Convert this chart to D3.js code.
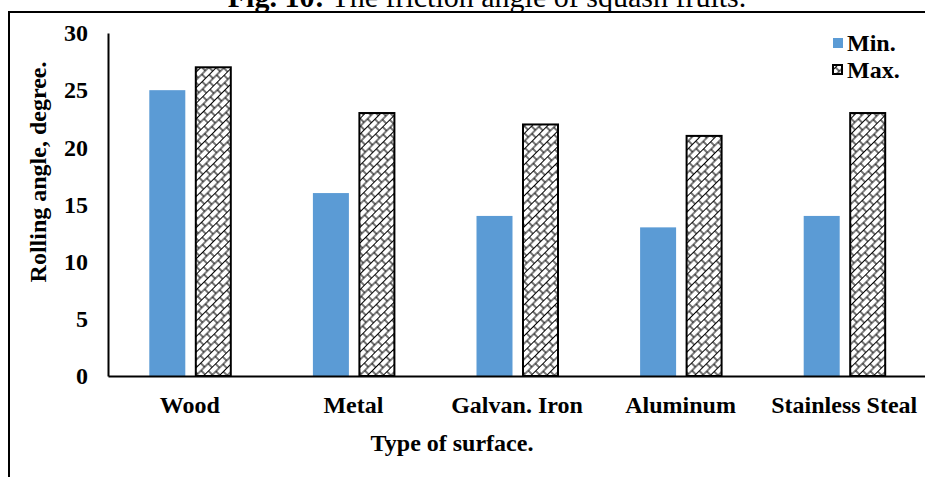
<!DOCTYPE html>
<html>
<head>
<meta charset="utf-8">
<script src="https://cdn.jsdelivr.net/npm/d3@7"></script>
<style>
  html, body { margin: 0; padding: 0; background: #fff; }
  svg { display: block; }
  text { font-family: "Liberation Serif", "Times New Roman", serif; fill: #000; }
</style>
</head>
<body>
<script>
// Rolling angle of squash fruits on different surfaces
const surfaces = ["Wood", "Metal", "Galvan. Iron", "Aluminum", "Stainless Steal"];
const minValues = [25, 16, 14, 13, 14];
const maxValues = [27, 23, 22, 21, 23];
const seriesNames = ["Min.", "Max."];
const yTicks = [0, 5, 10, 15, 20, 25, 30];

const W = 925, H = 477;
const margin = { left: 108, right: -1, top: 33, bottom: 101 };
const serif = "'Liberation Serif', 'Times New Roman', serif";

const svg = d3.select("body").append("svg")
  .attr("width", W).attr("height", H);

// brick-style hatch for the Max. series
const defs = svg.append("defs");
const pat = defs.append("pattern")
  .attr("id", "brick")
  .attr("patternUnits", "userSpaceOnUse")
  .attr("width", 10).attr("height", 11)
  .attr("patternTransform", "rotate(-45)");
pat.append("rect").attr("width", 10).attr("height", 11).attr("fill", "#fff");
pat.append("path")
  .attr("d", "M0,0.5H10 M0,6H10 M1,0.5V6 M6,6V11.5")
  .attr("stroke", "#000").attr("stroke-width", 1.1).attr("fill", "none");

// outer frame
svg.append("path")
  .attr("d", `M9,${H + 2}V12H${W + 2}`)
  .attr("fill", "none").attr("stroke", "#000").attr("stroke-width", 2);

// caption above the frame
const cap = svg.append("text")
  .attr("x", 487).attr("y", 7)
  .attr("text-anchor", "middle")
  .style("font-family", serif)
  .style("font-size", "30px");
cap.append("tspan").attr("font-weight", "bold").text("Fig. 10:");
cap.append("tspan").text(" The friction angle of squash fruits.");

const x0 = d3.scaleBand()
  .domain(surfaces)
  .range([margin.left, W - margin.right])
  .paddingInner(0).paddingOuter(0);

const y = d3.scaleLinear()
  .domain([0, 30])
  .range([H - margin.bottom, margin.top]);

const barW = 36, gap = 10;

const groups = svg.append("g").selectAll("g")
  .data(surfaces)
  .join("g")
  .attr("transform", d => `translate(${x0(d) + x0.bandwidth() / 2},0)`);

// Min. bars
groups.append("rect")
  .attr("x", -barW - gap / 2 + 0.5)
  .attr("width", barW)
  .attr("y", (d, i) => y(minValues[i]))
  .attr("height", (d, i) => y(0) - y(minValues[i]))
  .attr("fill", "#5B9BD5");

// Max. bars
groups.append("rect")
  .attr("x", gap / 2 + 1)
  .attr("width", barW - 1)
  .attr("y", (d, i) => y(maxValues[i]))
  .attr("height", (d, i) => y(0) - y(maxValues[i]))
  .attr("fill", "url(#brick)")
  .attr("stroke", "#000").attr("stroke-width", 2);

// y axis
const yAxis = svg.append("g")
  .attr("transform", `translate(${margin.left},0)`)
  .call(d3.axisLeft(y).tickValues(yTicks).tickSize(0).tickPadding(20));
yAxis.select(".domain").attr("stroke", "#000").attr("stroke-width", 2);
yAxis.selectAll("text")
  .style("font-size", "24px").style("font-weight", "bold")
  .style("font-family", serif);

// x axis
const xAxis = svg.append("g")
  .attr("transform", `translate(0,${y(0)})`)
  .call(d3.axisBottom(x0).tickSize(0).tickPadding(20));
xAxis.select(".domain").attr("stroke", "#000").attr("stroke-width", 2);
xAxis.selectAll("text")
  .style("font-size", "24px").style("font-weight", "bold")
  .style("font-family", serif);

// axis titles
svg.append("text")
  .attr("x", 452).attr("y", 451)
  .attr("text-anchor", "middle")
  .style("font-family", serif)
  .style("font-size", "24px").style("font-weight", "bold")
  .text("Type of surface.");

svg.append("text")
  .attr("transform", "translate(46,172) rotate(-90)")
  .attr("text-anchor", "middle")
  .style("font-family", serif)
  .style("font-size", "24px").style("font-weight", "bold")
  .text("Rolling angle, degree.");

// legend
const legend = svg.append("g").attr("transform", "translate(833,38)");
legend.append("rect").attr("x", 0).attr("y", 0).attr("width", 10).attr("height", 10)
  .attr("fill", "#5B9BD5");
legend.append("text").attr("x", 14).attr("y", 13)
  .style("font-family", serif)
  .style("font-size", "24px").style("font-weight", "bold").text(seriesNames[0]);
legend.append("rect").attr("x", 0).attr("y", 27).attr("width", 9).attr("height", 9)
  .attr("fill", "url(#brick)").attr("stroke", "#000").attr("stroke-width", 2);
legend.append("text").attr("x", 14).attr("y", 40)
  .style("font-family", serif)
  .style("font-size", "24px").style("font-weight", "bold").text(seriesNames[1]);
</script>
</body>
</html>
